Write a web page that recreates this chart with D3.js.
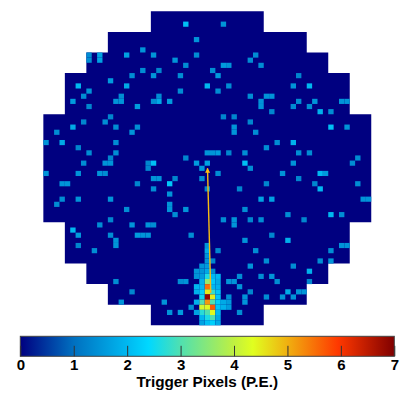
<!DOCTYPE html>
<html>
<head>
<meta charset="utf-8">
<script src="https://cdn.jsdelivr.net/npm/d3@7"></script>
<style>
  html, body { margin: 0; padding: 0; background: #fff; }
  svg { display: block; }
</style>
</head>
<body>
<svg id="chart" width="415" height="396"></svg>
<script>
// camera outline: first / last column of each block of rows
const outlineRows = [[0, 3, 20, 40], [4, 7, 12, 48], [8, 11, 8, 52], [12, 19, 4, 56],
  [20, 40, 0, 60], [41, 48, 4, 56], [49, 52, 8, 52], [53, 56, 12, 48], [57, 60, 20, 40]];

// lit pixels, [col, row, p.e.]
const scatterPixels = [
  [26,2,2.1],[33,2,1.5],[28,5,1.5],[18,7,1.5],[8,8,1.4],[8,9,1.4],[10,8,1.7],[10,9,1.7],[15,8,1.7],[20,8,1.5],[28,8,1.4],[39,8,1.4],
  [24,9,1.5],[38,9,1.4],[26,10,1.4],[33,10,1.6],[34,10,1.5],[40,10,1.4],[18,11,1.4],[21,11,1.3],[31,11,1.4],
  [16,12,1.4],[20,12,1.5],[25,12,1.4],[32,12,1.6],[47,12,1.3],[12,13,1.6],[6,14,2.0],[15,14,1.8],[30,14,2.0],[34,14,1.4],[46,14,1.5],[49,14,2.0],
  [8,15,1.5],[25,15,1.4],[32,15,1.4],[7,16,1.4],[14,16,1.4],[21,16,1.4],[38,16,1.4],[41,16,1.5],[42,16,1.5],
  [5,17,1.6],[13,17,1.5],[14,17,1.5],[20,17,1.4],[21,17,1.8],[23,17,1.6],[40,17,1.5],[47,17,1.4],[50,17,1.5],[55,17,1.5],[56,17,1.5],
  [8,18,1.3],[17,18,1.6],[40,18,1.5],[46,18,1.4],[49,18,1.4],[42,19,1.3],[51,19,1.9],[53,19,1.4],
  [12,20,1.3],[33,20,1.3],[35,20,1.3],[7,21,1.3],[11,21,1.4],[38,21,1.3],[5,22,1.8],[13,22,1.4],[17,22,1.4],[35,22,1.5],[53,22,2.1],[56,22,1.5],
  [2,23,1.4],[16,23,1.5],[35,23,1.5],[39,23,1.4],[0,25,1.5],[3,25,1.8],[13,25,1.4],[43,25,1.4],[46,25,1.9],[6,26,1.3],[41,26,1.4],
  [8,27,1.4],[13,27,1.4],[30,27,1.5],[31,27,1.5],[32,27,1.6],[34,27,1.3],[37,27,1.4],[47,27,1.4],[49,27,1.4],
  [12,28,1.3],[26,28,1.3],[58,28,1.4],[7,29,1.4],[11,29,1.5],[12,29,1.5],[19,29,1.3],[20,29,2.1],[28,29,1.6],[30,29,1.7],[37,29,2.1],[46,29,1.5],[57,29,1.4],
  [19,30,1.3],[29,30,1.6],[38,30,1.4],[0,31,1.5],[6,31,1.5],[10,31,1.5],[11,31,1.4],[32,31,1.4],[44,31,1.5],[51,31,2.0],[52,31,1.6],
  [20,32,1.5],[21,32,1.5],[24,32,1.3],[29,32,1.4],[47,32,1.3],[3,33,1.5],[4,33,1.5],[17,33,1.3],[23,33,2.2],[41,33,1.3],[50,33,1.3],[58,33,1.4],
  [20,34,1.4],[30,34,1.3],[36,34,1.3],[51,34,2.0],[23,35,1.5],[3,36,1.4],[6,36,1.5],[12,36,1.5],[40,36,1.7],[42,36,1.7],[59,36,1.5],[60,36,1.5],
  [2,37,1.4],[23,37,1.5],[15,38,1.4],[23,38,1.5],[26,38,1.5],[37,38,1.4],[24,39,1.4],[45,39,1.4],[53,39,2.0],[55,39,1.4],
  [12,40,1.3],[33,40,1.4],[35,40,1.5],[38,40,1.3],[40,40,1.4],[48,40,1.3],[10,41,1.4],[16,41,1.5],[19,41,1.5],[20,41,1.4],[35,41,1.5],
  [5,42,2.0],[6,43,1.6],[12,43,1.4],[17,43,1.6],[18,43,1.5],[19,43,1.5],[27,43,1.4],[42,43,1.3],[13,44,1.5],[37,44,1.5],[45,44,1.9],
  [6,45,1.3],[13,45,1.5],[55,45,1.5],[56,45,1.5],[9,46,1.4],[32,46,1.3],[39,46,1.4],[53,46,1.4],
  [31,48,1.3],[41,48,1.4],[51,48,1.4],[53,48,1.5],[38,49,1.5],[46,49,1.4],[49,50,1.9],[36,51,1.4],[40,51,1.4],[42,51,1.5],
  [13,52,1.4],[25,52,1.4],[26,52,1.5],[34,52,1.5],[35,52,1.5],[43,52,1.4],[49,52,1.3],[36,53,1.5],[16,54,1.3],[38,54,1.3],[45,54,1.8],[47,54,1.5],[48,54,1.5],
  [34,55,1.4],[37,55,1.5],[41,55,1.4],[44,55,1.5],[46,55,1.5],[14,56,1.5],[22,56,1.5],[34,56,1.6],[37,56,1.5],[27,57,1.4],[34,57,1.6],[23,58,1.5],[25,58,1.6],[36,58,1.4]
];

// the shower image, same form
const showerPixels = [
  [30,45,1.5],[30,46,1.8],[30,47,1.5],[30,48,1.5],[30,49,1.6],[30,50,1.8],[30,51,2.6],[30,52,3.6],[30,53,5.5],[30,54,4.5],[30,55,6.8],[30,56,5.2],[30,57,4.4],[30,58,3.0],[30,59,2.6],[30,60,2.1],
  [29,49,1.5],[29,50,1.5],[29,51,1.6],[29,52,1.9],[29,53,2.0],[29,54,2.3],[29,55,2.5],[29,56,3.0],[29,57,4.2],[29,58,2.7],[29,59,2.0],[29,60,1.7],
  [28,50,1.5],[28,51,1.5],[28,53,2.0],[28,54,1.9],[28,56,1.9],[28,58,1.7],
  [31,50,1.4],[31,51,2.0],[31,52,2.2],[31,53,2.0],[31,54,2.8],[31,55,4.5],[31,56,3.0],[31,57,5.7],[31,58,4.4],[31,59,3.0],[31,60,2.3],
  [32,51,2.0],[32,52,1.8],[32,53,1.9],[32,54,2.2],[32,55,2.2],[32,56,2.3],[32,57,2.2],[32,58,2.0],[32,59,1.8],[32,60,1.8],
  [33,56,1.8],[33,57,1.9]
];

// reconstructed shower axis, in pixel units
const arrowFrom = [31.14, 54.7];
const arrowTo = [30.54, 30.5];
// small cross at the image centroid
const centroid = [31.3, 54.4];

const colorStops = [0, 1, 2, 2.4, 3, 4, 4.35, 5, 5.95, 7];
const colorValues = ['#000080', '#0070c0', '#00b8f0', '#00d8ff', '#50e0b0', '#c0f040', '#e0ff20', '#f0b010', '#ff3800', '#800000'];
const colorTicks = [0, 1, 2, 3, 4, 5, 6, 7];

const svg = d3.select('#chart');

const xScale = d3.scaleLinear().domain([0, 61]).range([43.35, 371.25]);
const yScale = d3.scaleLinear().domain([0, 61]).range([11.3, 325.3]);
const colorScale = d3.scaleLinear().domain(colorStops).range(colorValues);

// camera background as one stepped outline, otherwise seams show between the blocks
const leftSide = outlineRows.flatMap(d => [[d[2], d[0]], [d[2], d[1] + 1]]);
const rightSide = outlineRows.slice().reverse().flatMap(d => [[d[3] + 1, d[1] + 1], [d[3] + 1, d[0]]]);
const outline = d3.line().x(d => xScale(d[0])).y(d => yScale(d[1]));

const camera = svg.append('g').attr('class', 'camera');
camera.append('path')
    .attr('d', outline(leftSide.concat(rightSide)) + 'Z')
    .attr('fill', colorScale(0));

camera.selectAll('rect.pixel')
    .data(scatterPixels.concat(showerPixels))
  .join('rect')
    .attr('class', 'pixel')
    .attr('x', d => xScale(d[0]))
    .attr('y', d => yScale(d[1]))
    .attr('width', xScale(1) - xScale(0))
    .attr('height', yScale(1) - yScale(0))
    .attr('fill', d => colorScale(d[2]));

// arrow
const defs = svg.append('defs');
defs.append('marker')
    .attr('id', 'head')
    .attr('viewBox', '0 0 10 10')
    .attr('refX', 9).attr('refY', 5)
    .attr('markerUnits', 'userSpaceOnUse')
    .attr('markerWidth', 5).attr('markerHeight', 5)
    .attr('orient', 'auto')
  .append('path')
    .attr('d', 'M0,0L10,5L0,10Z')
    .attr('fill', '#ffc010');

svg.append('line')
    .attr('x1', xScale(arrowFrom[0])).attr('y1', yScale(arrowFrom[1]))
    .attr('x2', xScale(arrowTo[0])).attr('y2', yScale(arrowTo[1]))
    .attr('stroke', '#f8bc10')
    .attr('stroke-width', 1.4)
    .attr('marker-end', 'url(#head)');

svg.append('path')
    .attr('transform', `translate(${xScale(centroid[0])},${yScale(centroid[1])})`)
    .attr('d', d3.symbol(d3.symbolX, 14)())
    .attr('fill', '#e8e070');

// colour bar
const barX = d3.scaleLinear().domain([0, 7]).range([20.3, 394.3]);
const barTop = 336.3, barHeight = 20;

const grad = defs.append('linearGradient').attr('id', 'bar');
grad.selectAll('stop')
    .data(colorStops)
  .join('stop')
    .attr('offset', d => d / 7)
    .attr('stop-color', d => colorScale(d));

svg.append('rect')
    .attr('x', barX(0)).attr('y', barTop)
    .attr('width', barX(7) - barX(0)).attr('height', barHeight)
    .attr('fill', 'url(#bar)')
    .attr('stroke', '#444')
    .attr('stroke-width', 1);

const barAxis = svg.append('g')
    .attr('transform', `translate(0,${barTop + barHeight})`)
    .call(d3.axisBottom(barX).tickValues(colorTicks).tickSize(-10.5).tickFormat(d3.format('d')));
barAxis.select('.domain').remove();
barAxis.selectAll('line').attr('stroke', '#333');
barAxis.selectAll('text')
    .attr('y', 2.85)
    .attr('fill', '#000')
    .style('font-family', '"Liberation Sans", Arial, sans-serif')
    .style('font-weight', 'bold')
    .style('font-size', '15px');

svg.append('text')
    .attr('x', 207.3)
    .attr('y', 386.8)
    .attr('text-anchor', 'middle')
    .style('font-family', '"Liberation Sans", Arial, sans-serif')
    .style('font-weight', 'bold')
    .style('font-size', '15.3px')
    .text('Trigger Pixels (P.E.)');
</script>
</body>
</html>
